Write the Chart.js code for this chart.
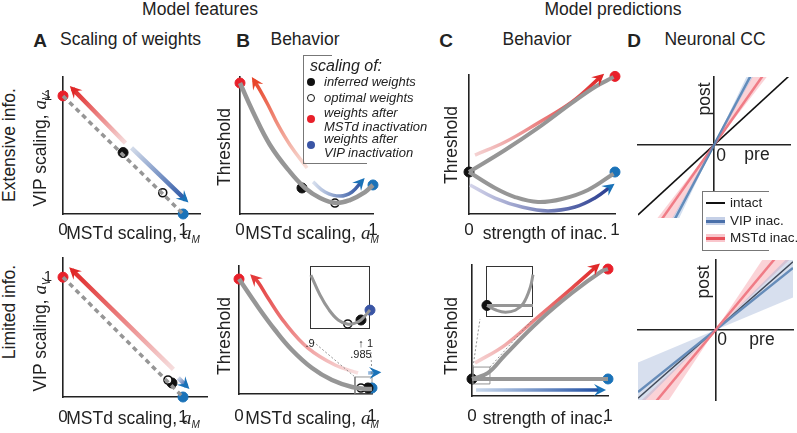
<!DOCTYPE html>
<html>
<head>
<meta charset="utf-8">
<title>Model features and model predictions</title>
<script src="https://cdn.jsdelivr.net/npm/chart.js@4.4.1/dist/chart.umd.min.js"></script>
<style>
  body { margin: 0; background: #fff; }
  #fig { position: relative; width: 797px; height: 433px; overflow: hidden;
         font-family: 'Liberation Sans', Arial, sans-serif; color: #222; }
  #plots { position: absolute; left: 0; top: 0; width: 797px; height: 433px; }
  #plots canvas { position: absolute; }
  .t { position: absolute; white-space: nowrap; font-size: 17.5px; line-height: 1; transform: translate(-50%, -50%); }
  .r { transform: translate(-50%, -50%) rotate(-90deg); }
  .l { transform: translate(0, -50%); }
  .b { font-weight: bold; font-size: 19px; }
  .m { font-family: 'Liberation Serif', serif; font-style: italic; font-size: 19px; }
  sub { font-size: 10px; font-style: italic; vertical-align: -4px; }
  .leg { position: absolute; font-style: italic; font-size: 13px; line-height: 13.5px; white-space: nowrap; transform: translate(0, -50%); }
  .dot { position: absolute; width: 8px; height: 8px; border-radius: 50%; transform: translate(-50%, -50%); box-sizing: border-box; }
  .bx { position: absolute; background: #777; }
  .dl { position: absolute; font-size: 13.5px; line-height: 1; white-space: nowrap; transform: translate(0, -50%); }
</style>
</head>
<body>
<div id="fig">
  <div id="plots"></div>

  <div class="t" style="left:200px;top:10px">Model features</div>
  <div class="t" style="left:613px;top:10px">Model predictions</div>

  <div class="t b" style="left:40px;top:40px">A</div>
  <div class="t l" style="left:60px;top:40px">Scaling of weights</div>
  <div class="t b" style="left:243px;top:40px">B</div>
  <div class="t" style="left:305px;top:40px">Behavior</div>
  <div class="t b" style="left:446px;top:40px">C</div>
  <div class="t" style="left:537px;top:40px">Behavior</div>
  <div class="t b" style="left:634px;top:40px">D</div>
  <div class="t" style="left:715px;top:40px">Neuronal CC</div>

  <div class="t r" style="left:10px;top:145px">Extensive info.</div>
  <div class="t r" style="left:10px;top:312px">Limited info.</div>
  <div class="t r" style="left:41px;top:150px">VIP scaling, <span class="m">a</span><sub>V</sub></div>
  <div class="t r" style="left:41px;top:335px">VIP scaling, <span class="m">a</span><sub>V</sub></div>
  <div class="t r" style="left:225px;top:147px">Threshold</div>
  <div class="t r" style="left:225px;top:336px">Threshold</div>
  <div class="t r" style="left:452px;top:145px">Threshold</div>
  <div class="t r" style="left:452px;top:336px">Threshold</div>

  <div class="t" style="left:133px;top:234px">MSTd scaling, <span class="m">a</span><sub>M</sub></div>
  <div class="t" style="left:133px;top:419px">MSTd scaling, <span class="m">a</span><sub>M</sub></div>
  <div class="t" style="left:312px;top:234px">MSTd scaling, <span class="m">a</span><sub>M</sub></div>
  <div class="t" style="left:312px;top:419px">MSTd scaling, <span class="m">a</span><sub>M</sub></div>
  <div class="t" style="left:545px;top:234px">strength of inac.</div>
  <div class="t" style="left:545px;top:419px">strength of inac.</div>

  <div class="t r" style="left:705px;top:99px">post</div>
  <div class="t" style="left:721px;top:156px">0</div>
  <div class="t" style="left:757px;top:155px">pre</div>
  <div class="t r" style="left:704px;top:282px">post</div>
  <div class="t" style="left:722px;top:340px">0</div>
  <div class="t" style="left:762px;top:340px">pre</div>

  <!-- legend of panel B -->
  <div class="bx" style="left:303px;top:55px;width:1px;height:108px"></div>
  <div class="bx" style="left:303px;top:55px;width:29px;height:1px"></div>
  <div class="bx" style="left:303px;top:163px;width:64px;height:1px"></div>
  <div class="leg" style="left:310px;top:66px;font-size:16px">scaling of:</div>
  <div class="dot" style="left:311px;top:82px;background:#111"></div>
  <div class="leg" style="left:324px;top:82px">inferred weights</div>
  <div class="dot" style="left:311px;top:98px;border:1.6px solid #111;background:#fff"></div>
  <div class="leg" style="left:324px;top:98px">optimal weights</div>
  <div class="dot" style="left:311px;top:119px;background:#e8202a"></div>
  <div class="leg" style="left:324px;top:119px">weights after<br>MSTd inactivation</div>
  <div class="dot" style="left:311px;top:145px;background:#3a55a5"></div>
  <div class="leg" style="left:324px;top:145px">weights after<br>VIP inactivation</div>

  <!-- legend of panel D -->
  <div style="position:absolute;left:702px;top:191px;width:66px;height:58px;background:#fff;border:1px solid #777;border-right:none"></div>
  <div style="position:absolute;left:706px;top:202px;width:19px;height:2px;background:#111"></div>
  <div class="dl" style="left:730px;top:203px">intact</div>
  <div style="position:absolute;left:706px;top:217px;width:19px;height:8px;background:rgba(150,170,212,0.55)"></div>
  <div style="position:absolute;left:706px;top:220px;width:19px;height:2.5px;background:#4a70aa"></div>
  <div class="dl" style="left:730px;top:221px">VIP inac.</div>
  <div style="position:absolute;left:706px;top:234px;width:19px;height:8px;background:rgba(245,160,170,0.6)"></div>
  <div style="position:absolute;left:706px;top:237px;width:19px;height:2.5px;background:#e8505a"></div>
  <div class="dl" style="left:730px;top:238px">MSTd inac.</div>
</div>

<script>
// ===== values =====

// tick labels
const unitTicks = [[0, '0'], [1, '1']];
const vipTicks = [[1, '1']];
const zoomTicks = [[0.9, '.9'], [0.985, ['\u2191', '.985']], [1, '1']];

// A, extensive info (x: MSTd scaling, y: VIP scaling)
const aExtDiagonal = [[0, 1], [1, 0]];
const aExtToMstd = [[0.52, 0.60], [0.08, 1.06]];
const aExtToVip = [[0.57, 0.56], [1.02, 0.12]];
const aExtInferred = [[0.50, 0.52]];
const aExtOptimal = [[0.83, 0.18]];
const aExtAfterMstd = [[0, 1]];
const aExtAfterVip = [[1, 0]];

// A, limited info
const aLimDiagonal = [[0, 1], [1, 0]];
const aLimToMstd = [[0.92, 0.23], [0.075, 1.06]];
const aLimToVip = [[0.96, 0.16], [1.03, 0.09]];
const aLimInferred = [[0.908, 0.117]];
const aLimOptimal = [[0.875, 0.142]];
const aLimAfterMstd = [[0, 1]];
const aLimAfterVip = [[1, 0]];

// B, extensive info (threshold vs MSTd scaling)
const bExtThreshold = [[0, 0.956], [0.098, 0.745], [0.226, 0.504], [0.376, 0.307], [0.489, 0.19],
  [0.602, 0.117], [0.722, 0.08], [0.827, 0.102], [0.94, 0.16], [1.0, 0.212]];
const bExtToMstd = [[0.504, 0.336], [0.376, 0.504], [0.286, 0.65], [0.211, 0.796], [0.15, 0.905], [0.105, 0.975]];
const bExtToVip = [[0.549, 0.234], [0.639, 0.161], [0.752, 0.131], [0.842, 0.161], [0.917, 0.241]];
const bExtInferred = [[0.466, 0.19]];
const bExtOptimal = [[0.714, 0.08]];
const bExtAfterMstd = [[0, 0.956]];
const bExtAfterVip = [[1, 0.212]];

// B, limited info
const bLimThreshold = [[0, 0.898], [0.143, 0.68], [0.271, 0.5], [0.398, 0.344], [0.549, 0.203],
  [0.699, 0.109], [0.85, 0.055], [0.97, 0.039], [1.0, 0.04]];
const bLimToMstd = [[0.895, 0.164], [0.722, 0.227], [0.519, 0.359], [0.346, 0.555], [0.218, 0.75], [0.143, 0.875], [0.105, 0.914]];
const bLimToVip = [[0.97, 0.164], [1.04, 0.168]];
const bLimInferred = [[0.97, 0.047]];
const bLimOptimal = [[0.917, 0.047]];
const bLimAfterMstd = [[0, 0.898]];
const bLimAfterVip = [[1.0, 0.047]];
const bLimZoomBox = [[0.872, 0], [1.0, 0], [1.0, 0.133], [0.872, 0.133], [0.872, 0]];
const bLimGuideL = [[0.534, 0.43], [0.872, 0.133]];
const bLimGuideR = [[0.992, 0.328], [1.0, 0.133]];
// zoomed inset (x from .9 to 1)
const bZoomThreshold = [[0.9015, 0.857], [0.9167, 0.54], [0.9318, 0.302], [0.947, 0.143], [0.962, 0.08],
  [0.974, 0.09], [0.985, 0.143], [1.0, 0.3]];
const bZoomOptimal = [[0.963, 0.08]];
const bZoomInferred = [[0.985, 0.143]];
const bZoomAfterVip = [[1.0, 0.3]];

// C, extensive info (threshold vs strength of inactivation)
const cExtMstdInac = [[0, 0.302], [0.247, 0.46], [0.473, 0.619], [0.705, 0.799], [0.863, 0.914], [0.99, 0.985]];
const cExtVipInac = [[0, 0.302], [0.178, 0.187], [0.315, 0.122], [0.473, 0.086], [0.637, 0.108], [0.815, 0.173], [0.99, 0.29]];
const cExtToMstd = [[0.041, 0.424], [0.247, 0.518], [0.473, 0.655], [0.705, 0.806], [0.905, 0.99]];
const cExtToVip = [[0.007, 0.209], [0.178, 0.115], [0.363, 0.05], [0.541, 0.022], [0.726, 0.05], [0.863, 0.115], [0.975, 0.2]];
const cExtIntact = [[0, 0.302]];
const cExtAfterMstd = [[1, 0.99]];
const cExtAfterVip = [[1, 0.302]];

// C, limited info
const cLimMstdInac = [[0, 0.13], [0.118, 0.176], [0.243, 0.313], [0.485, 0.565], [0.735, 0.786], [0.956, 0.954], [1.0, 0.969]];
const cLimVipInac = [[0, 0.13], [1, 0.13]];
const cLimToMstd = [[0.022, 0.252], [0.243, 0.389], [0.485, 0.603], [0.735, 0.824], [0.919, 0.992]];
const cLimToVip = [[0.03, 0.046], [0.956, 0.046]];
const cLimIntact = [[0, 0.13]];
const cLimAfterMstd = [[1, 0.969]];
const cLimAfterVip = [[1, 0.13]];
const cLimZoomBox = [[0.007, 0.092], [0.132, 0.092], [0.132, 0.221], [0.007, 0.221], [0.007, 0.092]];
const cLimGuideL = [[0.007, 0.221], [0.059, 0.588]];
const cLimGuideR = [[0.132, 0.221], [0.449, 0.588]];
// zoomed inset
const cZoomVipInac = [[0.02, 0.226], [1, 0.226]];
const cZoomMstdInac = [[0.02, 0.226], [0.226, 0.132], [0.415, 0.094], [0.623, 0.132], [0.792, 0.264], [0.943, 0.585], [1, 0.83]];
const cZoomIntact = [[0.02, 0.226]];

// D, extensive info (post vs pre, lines through the origin)
const dExtIntact = [[-1, -0.92], [1, 0.92]];
const dExtVip = [[-1, -1.89], [1, 1.89]];
const dExtVipLo = [[-1, -1.75], [1, 1.75]];
const dExtVipHi = [[-1, -2.1], [1, 2.1]];
const dExtMstd = [[-1, -1.42], [1, 1.42]];
const dExtMstdLo = [[-1, -1.29], [1, 1.29]];
const dExtMstdHi = [[-1, -1.79], [1, 1.79]];

// D, limited info
const dLimIntact = [[-1, -0.88], [1, 0.88]];
const dLimVip = [[-1, -0.8], [1, 0.8]];
const dLimVipLo = [[-1, -0.42], [1, 0.42]];
const dLimVipHi = [[-1, -1.0], [1, 1.0]];
const dLimMstd = [[-1, -1.2], [1, 1.2]];
const dLimMstdLo = [[-1, -0.95], [1, 0.95]];
const dLimMstdHi = [[-1, -1.5], [1, 1.5]];

// ===== styling =====
const GRAY = '#969696';
const RED = '#e8202a';
const BLUE = '#1a72b8';
const INK = '#222';

Chart.defaults.font.family = "'Liberation Sans', Arial, sans-serif";
Chart.defaults.color = INK;

const pts = a => a.map(([x, y]) => ({ x, y }));

// colour ramp along an arrow, from its first to its last point
function ramp(c0, c1) {
  return ctx => {
    const ch = ctx.chart;
    if (!ch.chartArea || !ctx.dataset) return c1;
    const d = ctx.dataset.data, p = d[0], q = d[d.length - 1];
    const sx = ch.scales.x, sy = ch.scales.y;
    const g = ch.ctx.createLinearGradient(sx.getPixelForValue(p.x), sy.getPixelForValue(p.y),
      sx.getPixelForValue(q.x), sy.getPixelForValue(q.y));
    g.addColorStop(0, c0);
    g.addColorStop(1, c1);
    return g;
  };
}

function curve(data, color, width, extra) {
  return Object.assign({
    data: pts(data), borderColor: color, borderWidth: width, pointRadius: 0,
    tension: 0.4, capBezierPoints: false, fill: false, clip: false,
  }, extra || {});
}
function arrow(data, c0, c1, head, width) {
  return curve(data, ramp(c0, c1), width || 3.5, { head, borderCapStyle: 'butt' });
}
function dots(data, color, r) {
  return { data: pts(data), showLine: false, pointRadius: r || 5, pointBackgroundColor: color,
    pointBorderColor: color, pointBorderWidth: 1, clip: false };
}
function ring(data, r) {
  return { data: pts(data), showLine: false, pointRadius: r || 4, pointBackgroundColor: '#fff',
    pointBorderColor: '#111', pointBorderWidth: 1.6, clip: false };
}
function thin(data, dash) {
  return { data: pts(data), borderColor: '#777', borderWidth: 0.8, borderDash: dash || [],
    pointRadius: 0, tension: 0, fill: false, clip: false };
}
function band(lo, hi, color) {
  return [
    { data: pts(lo), borderWidth: 0, pointRadius: 0, fill: '+1', backgroundColor: color, clip: 0 },
    { data: pts(hi), borderWidth: 0, pointRadius: 0, fill: false, clip: 0 },
  ];
}
function ccLine(data, color, width) {
  return { data: pts(data), borderColor: color, borderWidth: width, pointRadius: 0, fill: false, clip: 0 };
}

// barbed arrowheads at the last point of datasets that have a `head` colour
const arrowHeads = {
  id: 'arrowHeads',
  afterDatasetsDraw(chart) {
    const ctx = chart.ctx;
    chart.data.datasets.forEach((ds, i) => {
      if (!ds.head) return;
      const els = chart.getDatasetMeta(i).data;
      const tip = els[els.length - 1];
      let fx = tip.cp1x, fy = tip.cp1y;
      if (fx === undefined || Math.hypot(tip.x - fx, tip.y - fy) < 0.5) {
        fx = els[els.length - 2].x; fy = els[els.length - 2].y;
      }
      const a = Math.atan2(tip.y - fy, tip.x - fx);
      const ux = Math.cos(a), uy = Math.sin(a);
      const len = 12, half = 6;
      const tx = tip.x + ux * 4, ty = tip.y + uy * 4;
      ctx.save();
      ctx.fillStyle = ds.head;
      ctx.beginPath();
      ctx.moveTo(tx, ty);
      ctx.lineTo(tx - ux * len - uy * half, ty - uy * len + ux * half);
      ctx.lineTo(tx - ux * len * 0.62, ty - uy * len * 0.62);
      ctx.lineTo(tx - ux * len + uy * half, ty - uy * len - ux * half);
      ctx.closePath();
      ctx.fill();
      ctx.restore();
    });
  }
};

// outline of the plot area (used by the zoom insets)
const frame = {
  id: 'frame',
  beforeDatasetsDraw(chart, args, opts) {
    if (!opts.on) return;
    const { left, top, right, bottom } = chart.chartArea;
    const ctx = chart.ctx;
    ctx.save();
    ctx.strokeStyle = '#333';
    ctx.lineWidth = 1;
    ctx.strokeRect(left + 0.5, top + 0.5, right - left - 1, bottom - top - 1);
    ctx.restore();
  }
};

function edgeAxis(range, ticks, size, horiz, o) {
  const ax = {
    type: 'linear', bounds: 'data', min: range[0], max: range[1],
    grid: { display: false },
    border: { display: !o.frame, color: INK, width: 1.6 },
    ticks: {
      display: !!ticks, padding: horiz ? (o.tickPad ?? 0) : 3, color: INK,
      font: { size: horiz ? (o.tickSize || 17) : 15, lineHeight: o.tickLine || 1 },
      maxRotation: 0, autoSkip: false,
      callback: v => {
        const t = (ticks || []).find(k => Math.abs(k[0] - v) < 1e-9);
        return t ? t[1] : '';
      },
    },
    afterFit: s => {
      if (horiz) s.height = size; else s.width = size;
      s.paddingLeft = s.paddingRight = s.paddingTop = s.paddingBottom = 0;
    },
  };
  if (ticks) ax.afterBuildTicks = s => { s.ticks = ticks.map(k => ({ value: k[0] })); };
  return ax;
}

function crossAxes(xr, yr) {
  const ax = r => ({
    type: 'linear', bounds: 'data', min: r[0], max: r[1],
    grid: { display: false }, border: { display: true, color: INK, width: 1.6 },
    ticks: { display: false },
  });
  return { x: Object.assign(ax(xr), { position: { y: 0 } }), y: Object.assign(ax(yr), { position: { x: 0 } }) };
}

const plots = document.getElementById('plots');

// box = [left, top, right, bottom] of the plot area on the page
function panel(box, xr, yr, datasets, o) {
  o = o || {};
  const padL = o.padL ?? 8, padB = o.padB ?? 22, padT = 8, padR = 10;
  const cv = document.createElement('canvas');
  cv.width = box[2] - box[0] + padL + padR;
  cv.height = box[3] - box[1] + padT + padB;
  cv.style.left = (box[0] - padL) + 'px';
  cv.style.top = (box[1] - padT) + 'px';
  plots.appendChild(cv);
  return new Chart(cv, {
    type: 'line',
    data: { datasets },
    options: {
      responsive: false,
      animation: false,
      events: [],
      layout: { padding: o.cross
        ? { left: padL, top: padT, right: padR, bottom: padB }
        : { left: 0, top: padT, right: padR, bottom: 0 } },
      plugins: { legend: { display: false }, tooltip: { enabled: false }, frame: { on: !!o.frame } },
      scales: o.cross ? crossAxes(xr, yr) : {
        x: edgeAxis(xr, o.xTicks, padB, true, o),
        y: edgeAxis(yr, o.yTicks, padL, false, o),
      },
    },
    plugins: [arrowHeads, frame],
  });
}

// === A: scaling of weights ===
panel([63, 77, 200, 214], [0, 1.14], [0, 1.16], [
  curve(aExtDiagonal, GRAY, 3.5, { borderDash: [5, 4], tension: 0 }),
  arrow(aExtToMstd, '#f6dede', '#e02828', '#e02828', 4.5),
  arrow(aExtToVip, '#d4dcea', '#2a55a5', BLUE, 4.5),
  ring(aExtOptimal),
  dots(aExtInferred, '#111'),
  dots(aExtAfterMstd, RED),
  dots(aExtAfterVip, BLUE),
], { xTicks: unitTicks, yTicks: vipTicks, padL: 20, tickPad: 0 });

panel([63, 258, 207, 397], [0, 1.2], [0, 1.16], [
  curve(aLimDiagonal, GRAY, 3.5, { borderDash: [5, 4], tension: 0 }),
  arrow(aLimToMstd, '#f6dede', '#e02828', '#e02828', 4.5),
  arrow(aLimToVip, '#d4dcea', '#2a55a5', BLUE, 4.5),
  ring(aLimOptimal),
  dots(aLimInferred, '#111'),
  dots(aLimAfterMstd, RED),
  dots(aLimAfterVip, BLUE),
], { xTicks: unitTicks, yTicks: vipTicks, padL: 20, padB: 28, tickPad: 4 });

// === B: behaviour, threshold vs MSTd scaling ===
panel([240, 77, 373, 214], [0, 1], [0, 1], [
  curve(bExtThreshold, GRAY, 4.5),
  arrow(bExtToMstd, '#f8e0da', '#e8452a', '#e8452a'),
  arrow(bExtToVip, '#d8e0ee', '#2a50a0', BLUE),
  ring(bExtOptimal),
  dots(bExtInferred, '#111'),
  dots(bExtAfterMstd, RED),
  dots(bExtAfterVip, BLUE),
], { xTicks: unitTicks, tickPad: 0 });

panel([239, 266, 372, 394], [0, 1], [0, 1], [
  thin(bLimGuideL, [2, 2]),
  thin(bLimGuideR, [2, 2]),
  curve(bLimThreshold, GRAY, 4.5),
  arrow(bLimToMstd, '#f8e0e0', '#e43a3a', '#e43a3a'),
  arrow(bLimToVip, '#a8c4e4', BLUE, BLUE),
  ring(bLimOptimal),
  dots(bLimInferred, '#111'),
  dots(bLimAfterVip, BLUE),
  dots(bLimAfterMstd, RED),
  thin(bLimZoomBox),
], { xTicks: unitTicks, padB: 30, tickPad: 6 });

panel([304, 266, 370, 329], [0.9, 1.0], [0, 1], [
  curve(bZoomThreshold, GRAY, 3),
  ring(bZoomOptimal, 4),
  dots(bZoomInferred, '#111', 5),
  dots(bZoomAfterVip, '#3a55a5', 5),
], { xTicks: zoomTicks, tickSize: 11, tickLine: 1.05, tickPad: 1, frame: true, padL: 0, padB: 30 });

// === C: behaviour, threshold vs strength of inactivation ===
panel([469, 75, 615, 214], [0, 1], [0, 1], [
  curve(cExtMstdInac, GRAY, 4),
  curve(cExtVipInac, GRAY, 4),
  arrow(cExtToMstd, '#f4d2d2', '#e02828', '#e02828'),
  arrow(cExtToVip, '#d4d4ea', '#283c90', BLUE),
  dots(cExtIntact, '#111'),
  dots(cExtAfterMstd, RED),
  dots(cExtAfterVip, BLUE),
], { xTicks: unitTicks, tickPad: 0 });

panel([472, 265, 608, 396], [0, 1], [0, 1], [
  thin(cLimGuideL, [2, 2]),
  thin(cLimGuideR, [2, 2]),
  curve(cLimMstdInac, GRAY, 4),
  curve(cLimVipInac, GRAY, 4, { tension: 0 }),
  arrow(cLimToMstd, '#f6d4d4', '#e02828', '#e02828'),
  arrow(cLimToVip, '#c8d8ec', '#1a4aa0', BLUE),
  thin(cLimZoomBox),
  dots(cLimIntact, '#111'),
  dots(cLimAfterMstd, RED),
  dots(cLimAfterVip, BLUE),
], { xTicks: unitTicks, padB: 28, tickPad: 4 });

panel([480, 266, 533, 319], [0, 1], [0, 1], [
  curve(cZoomVipInac, GRAY, 3, { tension: 0 }),
  curve(cZoomMstdInac, GRAY, 3),
  dots(cZoomIntact, '#111', 5),
], { frame: true, padL: 0, padB: 4 });

// === D: neuronal cross-correlation ===
panel([638, 77, 790, 218], [-1, 1], [-0.96, 0.895], [
  ...band(dExtVipLo, dExtVipHi, 'rgba(140,170,215,0.38)'),
  ...band(dExtMstdLo, dExtMstdHi, 'rgba(245,150,160,0.42)'),
  ccLine(dExtVip, '#4a7aaa', 2.5),
  ccLine(dExtMstd, '#ec6a74', 2.5),
  ccLine(dExtIntact, '#111', 1.6),
], { cross: true, padL: 4, padB: 4 });

panel([638, 260, 793, 400], [-1, 1], [-0.903, 0.903], [
  ...band(dLimVipLo, dLimVipHi, 'rgba(150,170,210,0.38)'),
  ...band(dLimMstdLo, dLimMstdHi, 'rgba(245,150,160,0.42)'),
  ccLine(dLimMstd, '#ec6a74', 2.5),
  ccLine(dLimVip, '#4a7aaa', 2.5),
  ccLine(dLimIntact, '#111', 1.6),
], { cross: true, padL: 4, padB: 4 });
</script>
</body>
</html>
